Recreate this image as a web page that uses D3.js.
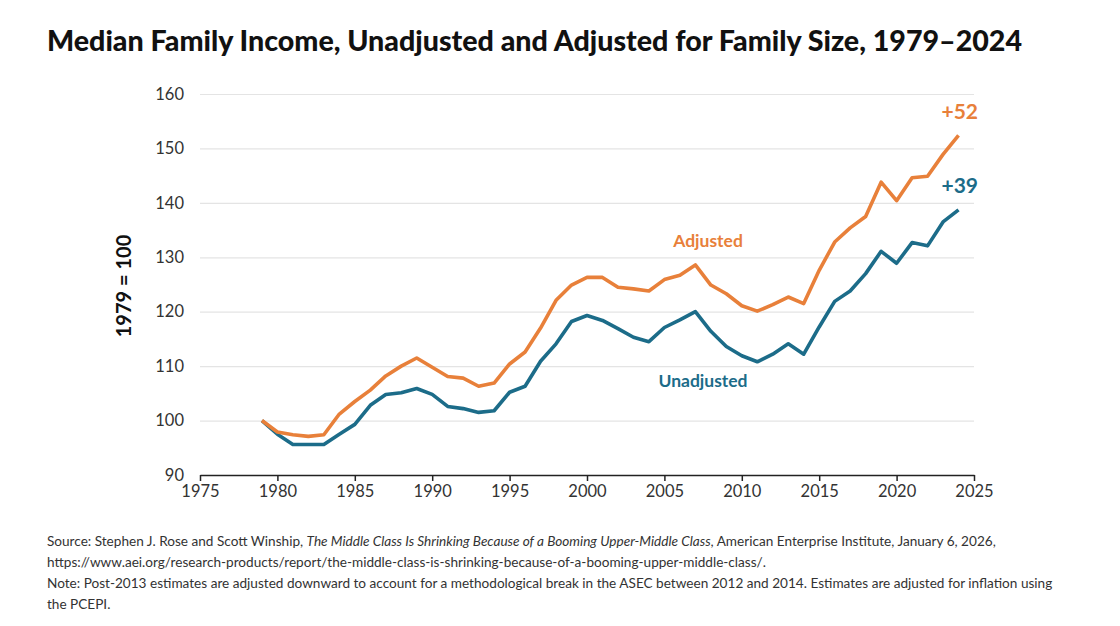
<!DOCTYPE html>
<html>
<head>
<meta charset="utf-8">
<script src="https://cdn.jsdelivr.net/npm/d3@7"></script>
<style>
  body { margin: 0; background: #fff; }
  svg text { font-family: Lato, "Open Sans", sans-serif; }
</style>
</head>
<body>
<svg id="chart" width="1120" height="626"></svg>
<script>
// values (1979 = 100)
let years = d3.range(1979, 2025)
let adjusted = [100, 97.9, 97.4, 97.1, 97.4, 101.2, 103.5, 105.6, 108.2, 110.0,
  111.5, 109.8, 108.1, 107.8, 106.3, 106.9, 110.4, 112.6, 117.0, 122.1,
  124.9, 126.3, 126.3, 124.5, 124.2, 123.8, 125.9, 126.7, 128.6, 124.9,
  123.3, 121.1, 120.1, 121.3, 122.7, 121.5, 127.6, 132.8, 135.4, 137.5,
  143.8, 140.4, 144.6, 144.9, 148.9, 152.4]
let unadjusted = [100, 97.5, 95.6, 95.6, 95.6, 97.5, 99.3, 102.8, 104.8, 105.1,
  105.9, 104.8, 102.6, 102.2, 101.5, 101.8, 105.2, 106.3, 110.9, 114.1,
  118.2, 119.3, 118.4, 116.9, 115.3, 114.5, 117.1, 118.5, 120.0, 116.4,
  113.6, 111.9, 110.8, 112.2, 114.1, 112.2, 117.2, 121.9, 123.8, 127.0,
  131.1, 128.9, 132.7, 132.1, 136.5, 138.7]
let yTicks = [90, 100, 110, 120, 130, 140, 150, 160]
let xTicks = d3.range(1975, 2026, 5)

let orange = "#e8803a"
let blue = "#1c6c89"

let svg = d3.select("#chart")

let x = d3.scaleLinear().domain([1975, 2025]).range([200, 974])
let y = d3.scaleLinear().domain([90, 160]).range([475, 94])

// title
svg.append("text")
   .attr("x", 47).attr("y", 51)
   .attr("font-size", 28.6).attr("font-weight", 900)
   .attr("fill", "#111")
   .text("Median Family Income, Unadjusted and Adjusted for Family Size, 1979–2024")

// gridlines + y labels
let yAxis = svg.append("g")
   .attr("transform", "translate(200,0)")
   .call(d3.axisLeft(y).tickValues(yTicks).tickSize(-774).tickPadding(16))
yAxis.select(".domain").remove()
yAxis.selectAll(".tick line").attr("stroke", "#e4e4e4").attr("stroke-width", 1.2)
   .filter(d => d == 90).remove()
yAxis.selectAll(".tick text").attr("font-size", 16.5).attr("fill", "#333")
   .attr("font-family", "Lato")

// x axis
let xAxis = svg.append("g")
   .attr("transform", "translate(0,475)")
   .call(d3.axisBottom(x).tickValues(xTicks).tickFormat(d3.format("d")).tickSize(6).tickSizeOuter(0).tickPadding(4))
xAxis.select(".domain").attr("stroke", "#222").attr("stroke-width", 1.5)
xAxis.selectAll(".tick line").attr("stroke", "#222").attr("stroke-width", 1.5)
xAxis.selectAll(".tick text").attr("font-size", 16.5).attr("fill", "#333")
   .attr("font-family", "Lato")

// y title
svg.append("text")
   .attr("transform", "translate(131,286) rotate(-90)")
   .attr("text-anchor", "middle")
   .attr("font-size", 20).attr("font-weight", 700).attr("fill", "#111")
   .text("1979 = 100")

let line = d3.line()
   .x((d, i) => x(years[i]))
   .y(d => y(d))

svg.append("path").datum(unadjusted)
   .attr("d", line).attr("fill", "none")
   .attr("stroke", blue).attr("stroke-width", 3.6).attr("stroke-linejoin", "round")
svg.append("path").datum(adjusted)
   .attr("d", line).attr("fill", "none")
   .attr("stroke", orange).attr("stroke-width", 3.6).attr("stroke-linejoin", "round")

// series labels
svg.append("text").attr("x", 708).attr("y", 247).attr("text-anchor", "middle")
   .attr("font-size", 17.5).attr("font-weight", 700).attr("fill", orange).text("Adjusted")
svg.append("text").attr("x", 703).attr("y", 387).attr("text-anchor", "middle")
   .attr("font-size", 17.5).attr("font-weight", 700).attr("fill", blue).text("Unadjusted")
svg.append("text").attr("x", 978).attr("y", 119).attr("text-anchor", "end")
   .attr("font-size", 21).attr("font-weight", 700).attr("fill", orange).text("+52")
svg.append("text").attr("x", 978).attr("y", 193).attr("text-anchor", "end")
   .attr("font-size", 21).attr("font-weight", 700).attr("fill", blue).text("+39")

// footnotes
let notes = svg.append("text").attr("font-size", 13.6).attr("fill", "#333")
let src = notes.append("tspan").attr("x", 47).attr("y", 546)
src.append("tspan").text("Source: Stephen J. Rose and Scott Winship, ")
src.append("tspan").attr("font-style", "italic").text("The Middle Class Is Shrinking Because of a Booming Upper-Middle Class")
src.append("tspan").text(", American Enterprise Institute, January 6, 2026,")
notes.append("tspan").attr("x", 47).attr("y", 567)
   .text("https://www.aei.org/research-products/report/the-middle-class-is-shrinking-because-of-a-booming-upper-middle-class/.")
notes.append("tspan").attr("x", 47).attr("y", 588)
   .text("Note: Post-2013 estimates are adjusted downward to account for a methodological break in the ASEC between 2012 and 2014. Estimates are adjusted for inflation using")
notes.append("tspan").attr("x", 47).attr("y", 609).text("the PCEPI.")
</script>
</body>
</html>
